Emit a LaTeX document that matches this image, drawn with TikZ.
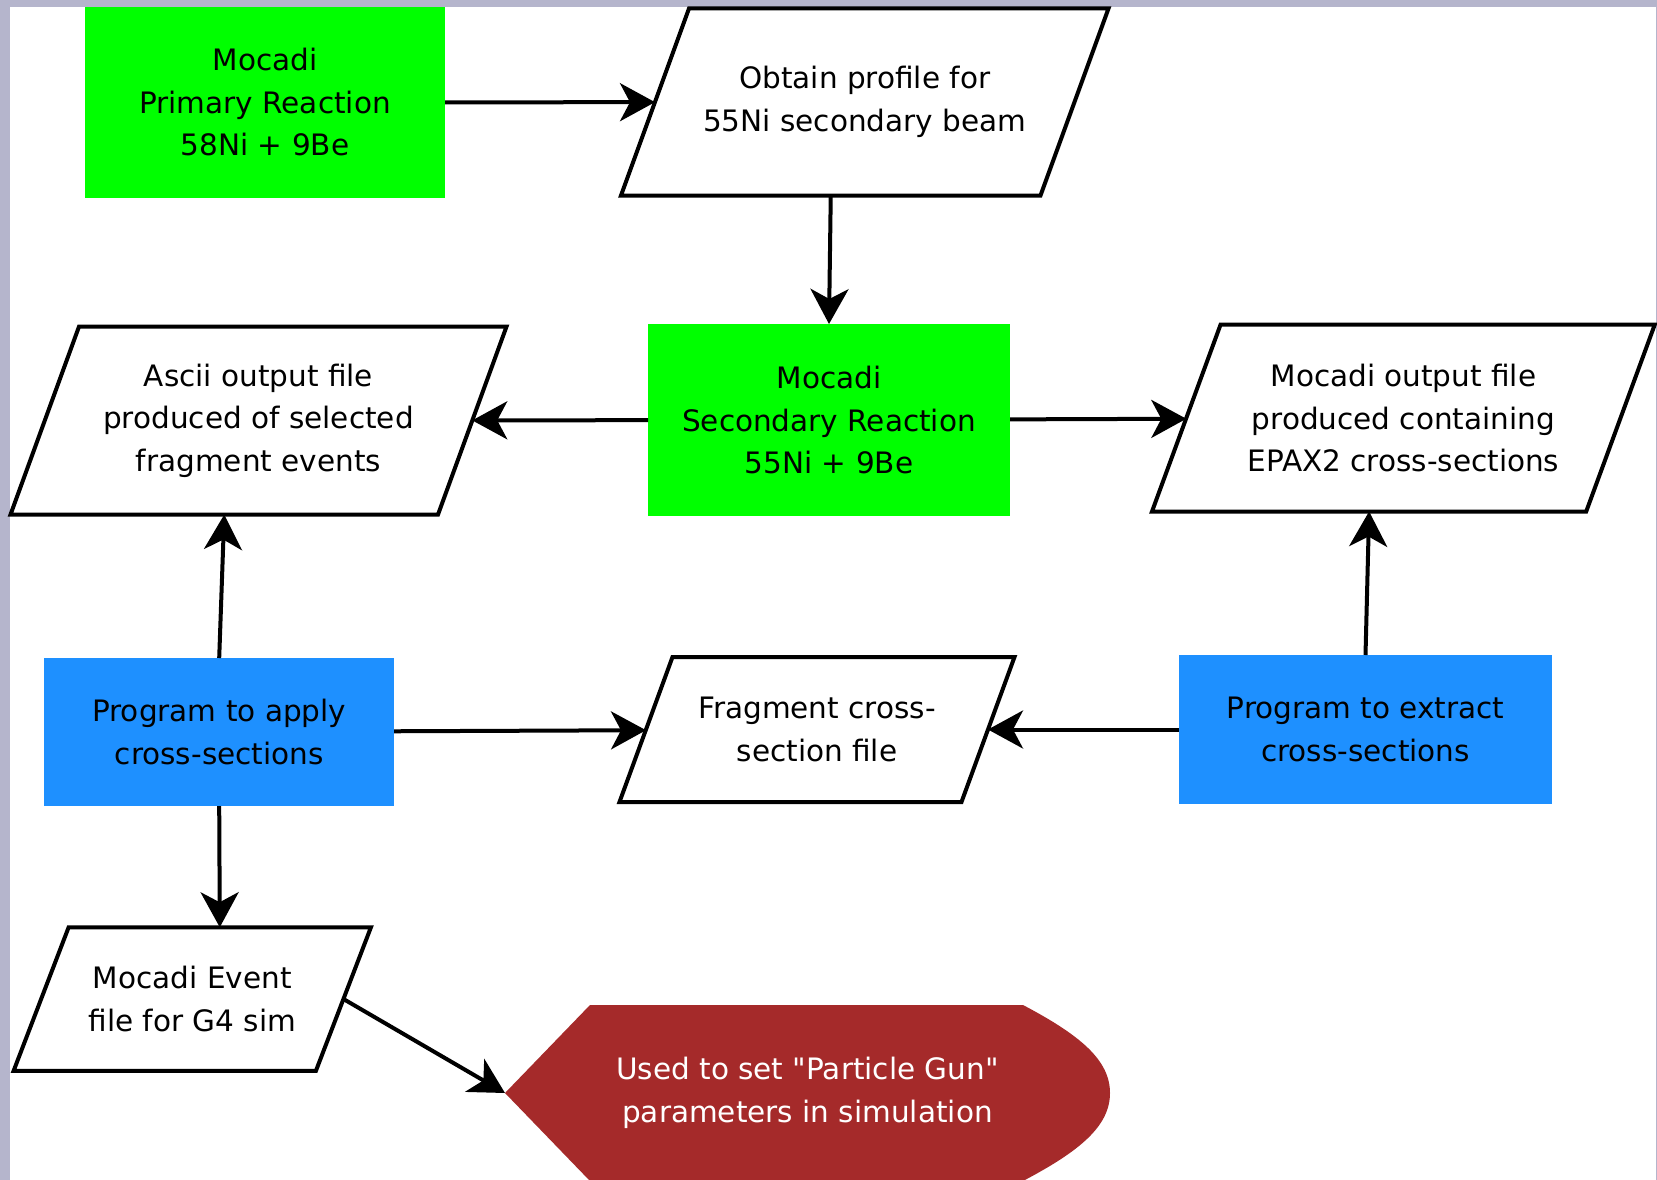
\documentclass[tikz,border=0pt]{standalone}
\usepackage{fontspec}
\setmainfont{DejaVu Sans}[Ligatures=TeXOff]
\usetikzlibrary{arrows.meta}
\definecolor{frame}{RGB}{181,181,204}
\definecolor{boxgreen}{RGB}{0,255,0}
\definecolor{boxblue}{RGB}{30,144,255}
\definecolor{usedred}{RGB}{165,42,42}
\newcommand{\ioshape}[2]{%
  \draw[ioline] ([xshift=-#2]#1.south west) -- ([xshift=-#2]#1.south east)
    -- ([xshift=#2]#1.north east) -- ([xshift=#2]#1.north west) -- cycle;}
\begin{document}
\begin{tikzpicture}[x=1pt,y=-1pt,
  every node/.style={font=\fontsize{29.5}{42.5}\selectfont, align=center, inner sep=0pt, outer sep=0pt},
  greenbox/.style={rectangle, fill=boxgreen},
  bluebox/.style={rectangle, fill=boxblue},
  iotext/.style={rectangle},
  ioline/.style={draw=black, line width=4pt, line join=miter},
  arr/.style={line width=4pt, -{Stealth[length=35pt,width=38pt,inset=10pt]}}
]
\useasboundingbox (0,0) rectangle (1657,1180);
\fill[frame] (0,0) rectangle (1657,1180);
\fill[white] (9.5,7) rectangle (1655.5,1185);

% green boxes
\node[greenbox, minimum width=360pt, minimum height=191pt] (primary) at (265,102.5) {Mocadi\\Primary Reaction\\58Ni + 9Be};
\node[greenbox, minimum width=362pt, minimum height=192pt] (secondary) at (829,420) {Mocadi\\Secondary Reaction\\55Ni + 9Be};

% blue boxes
\node[bluebox, minimum width=350pt, minimum height=148pt] (apply) at (219.2,732) {Program to apply\\cross-sections};
\node[bluebox, minimum width=373pt, minimum height=149pt] (extract) at (1365.5,729.5) {Program to extract\\cross-sections};

% parallelograms (text nodes sized to the mid-height width)
\node[iotext, minimum width=419.5pt, minimum height=187pt] (obtain) at (864.75,102) {Obtain profile for\\55Ni secondary beam};
\node[iotext, minimum width=427.5pt, minimum height=188pt] (ascii) at (258.5,420.6) {Ascii output file\\produced of selected\\fragment events};
\node[iotext, minimum width=434.2pt, minimum height=187pt] (mocout) at (1403.4,418) {Mocadi output file\\produced containing\\EPAX2 cross-sections};
\node[iotext, minimum width=342pt, minimum height=145pt] (frag) at (817,729.5) {Fragment cross-\\section file};
\node[iotext, minimum width=302.3pt, minimum height=143.5pt] (event) at (192.3,999) {Mocadi Event\\file for G4 sim};
\ioshape{obtain}{34pt}
\ioshape{ascii}{34.25pt}
\ioshape{mocout}{34.3pt}
\ioshape{frag}{26.5pt}
\ioshape{event}{27.5pt}
\coordinate (obtainbot) at ([xshift=-34pt]obtain.south);
\coordinate (asciibot) at ([xshift=-34.25pt]ascii.south);
\coordinate (mocoutbot) at ([xshift=-34.3pt]mocout.south);
\coordinate (eventtop) at ([xshift=27.5pt]event.north);

% display shape
\fill[usedred] (505,1093) -- (590,1005) -- (1023,1005)
  .. controls (1080,1035) and (1110,1060) .. (1110,1093)
  .. controls (1110,1126) and (1080,1151) .. (1023,1181)
  -- (590,1181) -- cycle;
\node[minimum width=605pt, minimum height=176pt, text=white] (used) at (807.5,1093) {Used to set "Particle Gun"\\parameters in simulation};

% connectors
\draw[arr] (primary) -- (obtain);
\draw[arr] (obtainbot) -- (secondary.north);
\draw[arr] (secondary) -- (ascii);
\draw[arr] (secondary) -- (mocout);
\draw[arr] (apply.north) -- (asciibot);
\draw[arr] (apply) -- (frag);
\draw[arr] (extract) -- (frag);
\draw[arr] (extract.north) -- (mocoutbot);
\draw[arr] (apply.south) -- (eventtop);
\draw[arr] (event.east) -- (used.west);
\end{tikzpicture}
\end{document}
